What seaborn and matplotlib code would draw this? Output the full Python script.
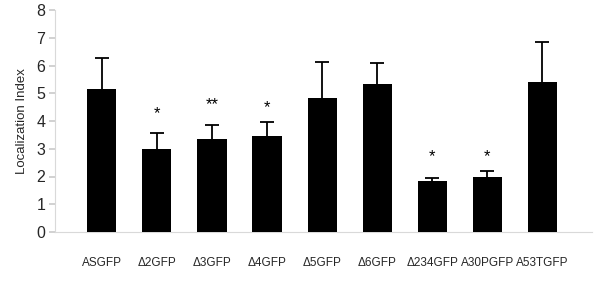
import matplotlib
matplotlib.use("Agg")
import matplotlib.pyplot as plt
import seaborn as sns
import pandas as pd
import numpy as np

categories = ["ASGFP", "Δ2GFP", "Δ3GFP", "Δ4GFP", "Δ5GFP", "Δ6GFP", "Δ234GFP", "A30PGFP", "A53TGFP"]
values = [5.14, 2.98, 3.34, 3.45, 4.84, 5.34, 1.85, 1.97, 5.39]
errors = [1.12, 0.60, 0.53, 0.50, 1.30, 0.76, 0.11, 0.23, 1.45]
marks = ["", "*", "**", "*", "", "", "*", "*", ""]
mark_y = [0, 4.25, 4.6, 4.5, 0, 0, 2.7, 2.7, 0]

sns.set_theme(style="white")
plt.rcParams['font.family'] = ['Liberation Sans', 'DejaVu Sans']

df = pd.DataFrame({"cat": categories, "val": values})
fig = plt.figure(figsize=(6, 2.89), dpi=100)
ax = fig.add_axes([55/600, 1-232/289, 537/600, 222/289])
x = np.arange(len(categories))
ax.errorbar(x, values, yerr=errors, fmt="none",
            ecolor="black", elinewidth=1.3, capsize=5, capthick=1.3, zorder=1)
sns.barplot(data=df, x="cat", y="val", color="black", width=0.53, ax=ax,
            saturation=1, edgecolor="black", linewidth=0, zorder=3)
for xi, m, my in zip(x, marks, mark_y):
    if m:
        ax.text(xi, my, m, ha="center", va="center", fontsize=12, color="black")

ax.set_xlim(-0.85, 8.9)
ax.set_ylim(0, 8)
ax.set_yticks(range(0, 9))
ax.set_xlabel("")
ax.set_ylabel("Localization Index", fontsize=9.5, labelpad=6)
ax.tick_params(axis="y", labelsize=11.5, length=4, color="#cccccc", left=True, pad=3)
ax.tick_params(axis="x", labelsize=8.5, length=0, pad=18)
for s in ["top", "right"]:
    ax.spines[s].set_visible(False)
for s in ["left", "bottom"]:
    ax.spines[s].set_color("#d9d9d9")
    ax.spines[s].set_linewidth(0.8)
fig.savefig("out.png", dpi=100)
